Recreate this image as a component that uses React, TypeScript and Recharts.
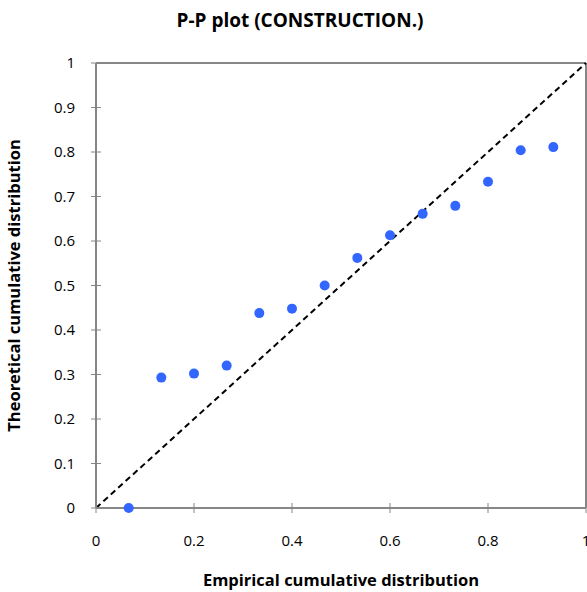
import React from 'react';
import { ScatterChart, Scatter, XAxis, YAxis, ReferenceLine, Label } from 'recharts';

const empirical = [0.0667, 0.1333, 0.2, 0.2667, 0.3333, 0.4, 0.4667, 0.5333, 0.6, 0.6667, 0.7333, 0.8, 0.8667, 0.9333];
const theoretical = [0, 0.293, 0.302, 0.32, 0.438, 0.448, 0.5, 0.562, 0.613, 0.661, 0.679, 0.733, 0.804, 0.811];
const xTicks = [0, 0.2, 0.4, 0.6, 0.8, 1];
const yTicks = [0, 0.1, 0.2, 0.3, 0.4, 0.5, 0.6, 0.7, 0.8, 0.9, 1];

const data = empirical.map((x, i) => ({ x, y: theoretical[i] }));

const FONT = '"Open Sans", sans-serif';
const AXIS = '#868686';

const XTick = (props: any) => {
  const { x, y, payload } = props;
  return (
    <g>
      <line x1={x} x2={x} y1={y - 5} y2={y + 5} stroke={AXIS} strokeWidth={1} />
      <text x={x} y={y + 38} textAnchor="middle" fontSize={15} fill="#000" fontFamily={FONT}>
        {String(payload.value)}
      </text>
    </g>
  );
};

const YTick = (props: any) => {
  const { x, y, payload } = props;
  return (
    <g>
      <line x1={x - 5} x2={x + 5} y1={y} y2={y} stroke={AXIS} strokeWidth={1} />
      <text x={x - 21} y={y + 5} textAnchor="end" fontSize={15} fill="#000" fontFamily={FONT}>
        {String(payload.value)}
      </text>
    </g>
  );
};

export default function App() {
  return (
    <div style={{ position: 'absolute', left: 0, top: 0, width: 587, height: 592, background: '#fff', overflow: 'hidden' }}>
      <div
        style={{
          position: 'absolute',
          left: 0,
          width: 600,
          top: 7,
          textAlign: 'center',
          fontFamily: FONT,
          fontWeight: 'bold',
          fontSize: 19,
          color: '#000',
        }}
      >
        P-P plot (CONSTRUCTION.)
      </div>
      <ScatterChart width={587} height={592} margin={{ top: 63, right: 1, bottom: 0, left: 0 }}>
        <XAxis
          type="number"
          dataKey="x"
          domain={[0, 1]}
          ticks={xTicks}
          tick={<XTick />}
          tickLine={false}
          tickSize={0}
          tickMargin={0}
          axisLine={{ stroke: AXIS, strokeWidth: 2 }}
          height={84}
          interval={0}
        >
          <Label
            value="Empirical cumulative distribution"
            position="insideBottom"
            offset={6}
            style={{ fontFamily: FONT, fontWeight: 'bold', fontSize: 16.5, fill: '#000' }}
          />
        </XAxis>
        <YAxis
          type="number"
          dataKey="y"
          domain={[0, 1]}
          ticks={yTicks}
          tick={<YTick />}
          tickLine={false}
          tickSize={0}
          tickMargin={0}
          axisLine={{ stroke: AXIS, strokeWidth: 2 }}
          width={96}
          interval={0}
        >
          <Label
            value="Theoretical cumulative distribution"
            angle={-90}
            position="insideLeft"
            offset={14}
            style={{ textAnchor: 'middle', fontFamily: FONT, fontWeight: 'bold', fontSize: 16.5, fill: '#000' }}
          />
        </YAxis>
        <ReferenceLine y={1} stroke={AXIS} strokeWidth={2} />
        <ReferenceLine x={1} stroke={AXIS} strokeWidth={2} />
        <ReferenceLine
          segment={[{ x: 0, y: 0 }, { x: 1, y: 1 }]}
          stroke="#000"
          strokeWidth={2}
          strokeDasharray="6 4"
        />
        <Scatter data={data} fill="#3366FF" isAnimationActive={false} shape={(p: any) => <circle cx={p.cx} cy={p.cy} r={5} fill="#3366FF" />} />
      </ScatterChart>
    </div>
  );
}
